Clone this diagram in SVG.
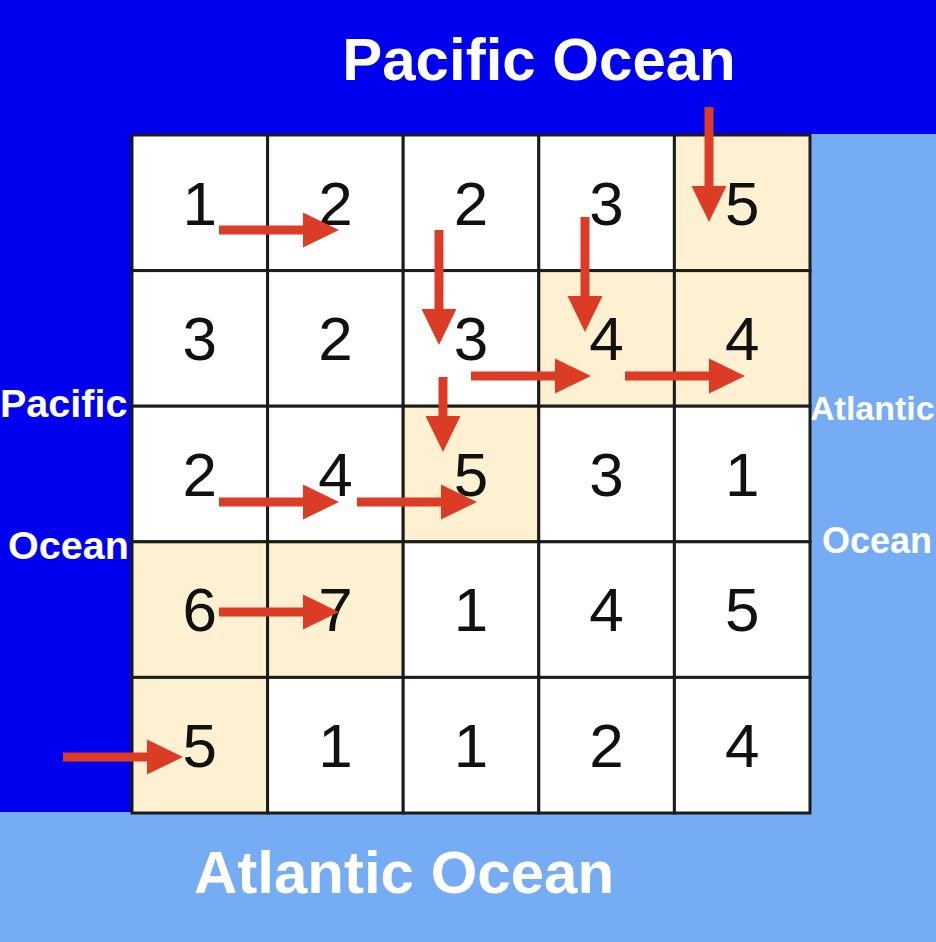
<svg xmlns="http://www.w3.org/2000/svg" width="936" height="942" viewBox="0 0 936 942">
<defs>
<style>
.ocean{font-family:"Liberation Sans",Arial,sans-serif;font-weight:bold;fill:#ffffff}
.cell{stroke:#1c1c1c;stroke-width:3}
.w{fill:#ffffff}
.b{fill:#fdf1d1}
.num{font-family:"Liberation Sans",Arial,sans-serif;font-size:62px;fill:#111111;text-anchor:middle}
.arr{stroke:#dc3b26;stroke-width:9;fill:none;marker-end:url(#head)}
</style>
<marker id="head" markerUnits="userSpaceOnUse" markerWidth="36" markerHeight="36" refX="0" refY="17.5" orient="auto" viewBox="0 0 36 35">
<path d="M0,0 L36,17.5 L0,35 Z" fill="#dc3b26"/>
</marker>
</defs>
<g id="background">
<rect x="0" y="0" width="936" height="942" fill="#76acf4"/>
<rect x="0" y="0" width="936" height="134" fill="#0000f0"/>
<rect x="0" y="0" width="133" height="812" fill="#0000f0"/>
</g>
<g id="labels">
<text class="ocean" x="539" y="80" font-size="60" text-anchor="middle">Pacific Ocean</text>
<text class="ocean" x="404" y="893" font-size="60" text-anchor="middle">Atlantic Ocean</text>
<text class="ocean" x="0" y="417" font-size="39.5">Pacific</text>
<text class="ocean" x="8" y="559" font-size="39.5">Ocean</text>
<text class="ocean" x="810" y="420" font-size="34">Atlantic</text>
<text class="ocean" x="822" y="553" font-size="36">Ocean</text>
</g>
<g id="grid">
<g id="r0">
<rect class="cell w" x="132" y="135" width="135.6" height="135.6"/>
<rect class="cell w" x="267.6" y="135" width="135.6" height="135.6"/>
<rect class="cell w" x="403.2" y="135" width="135.6" height="135.6"/>
<rect class="cell w" x="538.8" y="135" width="135.6" height="135.6"/>
<rect class="cell b" x="674.4" y="135" width="135.6" height="135.6"/>
</g>
<g id="r1">
<rect class="cell w" x="132" y="270.6" width="135.6" height="135.6"/>
<rect class="cell w" x="267.6" y="270.6" width="135.6" height="135.6"/>
<rect class="cell w" x="403.2" y="270.6" width="135.6" height="135.6"/>
<rect class="cell b" x="538.8" y="270.6" width="135.6" height="135.6"/>
<rect class="cell b" x="674.4" y="270.6" width="135.6" height="135.6"/>
</g>
<g id="r2">
<rect class="cell w" x="132" y="406.2" width="135.6" height="135.6"/>
<rect class="cell w" x="267.6" y="406.2" width="135.6" height="135.6"/>
<rect class="cell b" x="403.2" y="406.2" width="135.6" height="135.6"/>
<rect class="cell w" x="538.8" y="406.2" width="135.6" height="135.6"/>
<rect class="cell w" x="674.4" y="406.2" width="135.6" height="135.6"/>
</g>
<g id="r3">
<rect class="cell b" x="132" y="541.8" width="135.6" height="135.6"/>
<rect class="cell b" x="267.6" y="541.8" width="135.6" height="135.6"/>
<rect class="cell w" x="403.2" y="541.8" width="135.6" height="135.6"/>
<rect class="cell w" x="538.8" y="541.8" width="135.6" height="135.6"/>
<rect class="cell w" x="674.4" y="541.8" width="135.6" height="135.6"/>
</g>
<g id="r4">
<rect class="cell b" x="132" y="677.4" width="135.6" height="135.6"/>
<rect class="cell w" x="267.6" y="677.4" width="135.6" height="135.6"/>
<rect class="cell w" x="403.2" y="677.4" width="135.6" height="135.6"/>
<rect class="cell w" x="538.8" y="677.4" width="135.6" height="135.6"/>
<rect class="cell w" x="674.4" y="677.4" width="135.6" height="135.6"/>
</g>
</g>
<g id="numbers">
<text class="num" x="199.8" y="224.5">1</text>
<text class="num" x="335.4" y="224.5">2</text>
<text class="num" x="471" y="224.5">2</text>
<text class="num" x="606.6" y="224.5">3</text>
<text class="num" x="742.2" y="224.5">5</text>
<text class="num" x="199.8" y="360">3</text>
<text class="num" x="335.4" y="360">2</text>
<text class="num" x="471" y="360">3</text>
<text class="num" x="606.6" y="360">4</text>
<text class="num" x="742.2" y="360">4</text>
<text class="num" x="199.8" y="495.5">2</text>
<text class="num" x="335.4" y="495.5">4</text>
<text class="num" x="471" y="495.5">5</text>
<text class="num" x="606.6" y="495.5">3</text>
<text class="num" x="742.2" y="495.5">1</text>
<text class="num" x="199.8" y="631">6</text>
<text class="num" x="335.4" y="631">7</text>
<text class="num" x="471" y="631">1</text>
<text class="num" x="606.6" y="631">4</text>
<text class="num" x="742.2" y="631">5</text>
<text class="num" x="199.8" y="766.5">5</text>
<text class="num" x="335.4" y="766.5">1</text>
<text class="num" x="471" y="766.5">1</text>
<text class="num" x="606.6" y="766.5">2</text>
<text class="num" x="742.2" y="766.5">4</text>
</g>
<g id="connectors">
<line class="arr" x1="219" y1="230" x2="303" y2="230"/>
<line class="arr" x1="709" y1="107" x2="709" y2="186"/>
<line class="arr" x1="439" y1="230" x2="439" y2="309"/>
<line class="arr" x1="585" y1="217" x2="585" y2="296"/>
<line class="arr" x1="471" y1="376" x2="555" y2="376"/>
<line class="arr" x1="625" y1="376" x2="709" y2="376"/>
<line class="arr" x1="443" y1="377" x2="443" y2="416"/>
<line class="arr" x1="219" y1="502" x2="303" y2="502"/>
<line class="arr" x1="357" y1="502" x2="441" y2="502"/>
<line class="arr" x1="219" y1="612" x2="303" y2="612"/>
<line class="arr" x1="63" y1="757" x2="147" y2="757"/>
</g>
</svg>
